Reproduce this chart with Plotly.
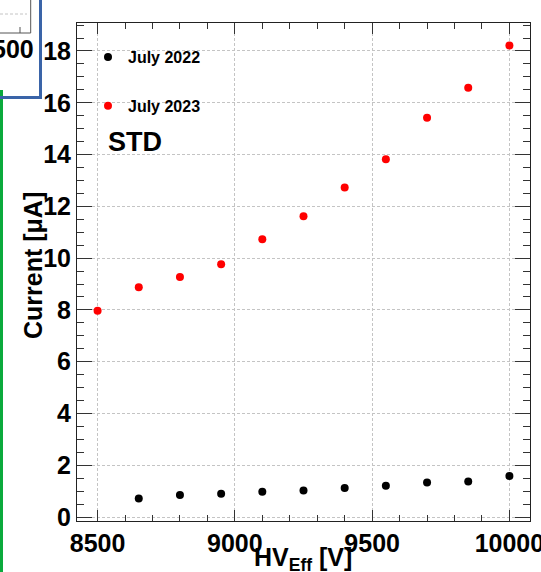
import plotly.graph_objects as go

# ---- data ----
hv_2022 = [8650, 8800, 8950, 9100, 9250, 9400, 9550, 9700, 9850, 10000]
cur_2022 = [0.72, 0.85, 0.90, 0.98, 1.03, 1.12, 1.21, 1.34, 1.38, 1.59]
hv_2023 = [8500, 8650, 8800, 8950, 9100, 9250, 9400, 9550, 9700, 9850, 10000]
cur_2023 = [7.97, 8.88, 9.27, 9.76, 10.73, 11.62, 12.73, 13.82, 15.42, 16.58, 18.21]
x_ticks = [8500, 9000, 9500, 10000]
x_ticklabels = ["8500", "9000", "9500", "10000"]
y_ticks = [0, 2, 4, 6, 8, 10, 12, 14, 16, 18]
y_ticklabels = [str(v) for v in y_ticks]
series_names = ["July 2022", "July 2023"]

W, H = 541, 572
L, R, T, B = 77, 530, 23, 521
PW, PH = R - L, B - T

def px(x):
    return (x - L) / PW

def py(y):
    return (B - y) / PH

FONT = "Liberation Sans"

fig = go.Figure()
fig.add_trace(go.Scatter(x=hv_2022, y=cur_2022, mode="markers", name=series_names[0],
                         legendgroup="a",
                         marker=dict(color="black", size=8)))
fig.add_trace(go.Scatter(x=hv_2023, y=cur_2023, mode="markers", name=series_names[1],
                         legendgroup="b",
                         marker=dict(color="#ff0000", size=8)))

axis_common = dict(
    showline=True, linecolor="#222", linewidth=1, mirror="ticks",
    ticks="inside", tickcolor="#333", tickwidth=1,
    showgrid=True, gridcolor="#c4c4c4", griddash="3px,2px", gridwidth=1,
    zeroline=False, ticklabeloverflow="allow",
    tickfont=dict(family=FONT, size=25, color="black", weight="bold"),
)

fig.update_layout(
    width=W, height=H,
    margin=dict(l=L, r=W - R, t=T, b=H - B, autoexpand=False),
    paper_bgcolor="white", plot_bgcolor="white",
    showlegend=True,
    legend=dict(x=px(88), y=py(40), xanchor="left", yanchor="top",
                bgcolor="rgba(0,0,0,0)", borderwidth=0, tracegroupgap=25,
                font=dict(family=FONT, size=16, color="black", weight="bold")),
    xaxis=dict(range=[8425, 10075], tickvals=x_ticks, ticktext=x_ticklabels, ticklen=11,
               minor=dict(dtick=100, tick0=8500, ticks="inside", ticklen=6,
                          tickcolor="#333", showgrid=False),
               **axis_common),
    yaxis=dict(range=[-0.15, 19.08], tickvals=y_ticks, ticktext=y_ticklabels, ticklen=15,
               minor=dict(dtick=0.5, tick0=0, ticks="inside", ticklen=7,
                          tickcolor="#333", showgrid=False),
               **axis_common),
)

# axis titles and label
fig.add_annotation(text="Current [\u03bcA]", textangle=-90, xref="paper", yref="paper",
                   x=px(33), y=py(266), xanchor="center", yanchor="middle", showarrow=False,
                   font=dict(family=FONT, size=25, color="black", weight="bold"))
fig.add_annotation(text="HV<sub>Eff</sub> [V]", xref="paper", yref="paper",
                   x=px(303), y=py(541), xanchor="center", yanchor="top", showarrow=False,
                   font=dict(family=FONT, size=25, color="black", weight="bold"))
fig.add_annotation(text="STD", xref="paper", yref="paper",
                   x=px(106), y=py(142), xanchor="left", yanchor="middle", showarrow=False,
                   font=dict(family=FONT, size=27, color="black", weight="bold"))

# neighbouring-panel remnants on the left edge
fig.add_annotation(text="500", xref="paper", yref="paper",
                   x=px(36), y=py(49), xanchor="right", yanchor="middle", showarrow=False,
                   font=dict(family=FONT, size=25, color="black", weight="bold"))
shapes = [
    dict(type="line", xref="paper", yref="paper", x0=px(0), x1=px(27), y0=py(14), y1=py(14),
         line=dict(color="#c4c4c4", width=1, dash="3px,2px")),
    dict(type="line", xref="paper", yref="paper", x0=px(30.7), x1=px(30.7), y0=py(0), y1=py(33),
         line=dict(color="#555", width=1)),
    dict(type="line", xref="paper", yref="paper", x0=px(0), x1=px(30.7), y0=py(33), y1=py(33),
         line=dict(color="#555", width=1)),
    dict(type="line", xref="paper", yref="paper", x0=px(20), x1=px(20), y0=py(27), y1=py(33),
         line=dict(color="#555", width=1)),
    dict(type="line", xref="paper", yref="paper", x0=px(1.5), x1=px(1.5), y0=py(90), y1=py(572),
         line=dict(color="#0aaa3c", width=3)),
    dict(type="line", xref="paper", yref="paper", x0=px(40.5), x1=px(40.5), y0=py(0), y1=py(98),
         line=dict(color="#3a64a8", width=3)),
    dict(type="line", xref="paper", yref="paper", x0=px(0), x1=px(42), y0=py(97.5), y1=py(97.5),
         line=dict(color="#3a64a8", width=3)),
]
fig.update_layout(shapes=shapes)

fig.write_html("out.html", config={"displayModeBar": False},
               post_script="document.body.style.margin='0';document.body.style.overflow='hidden';")
